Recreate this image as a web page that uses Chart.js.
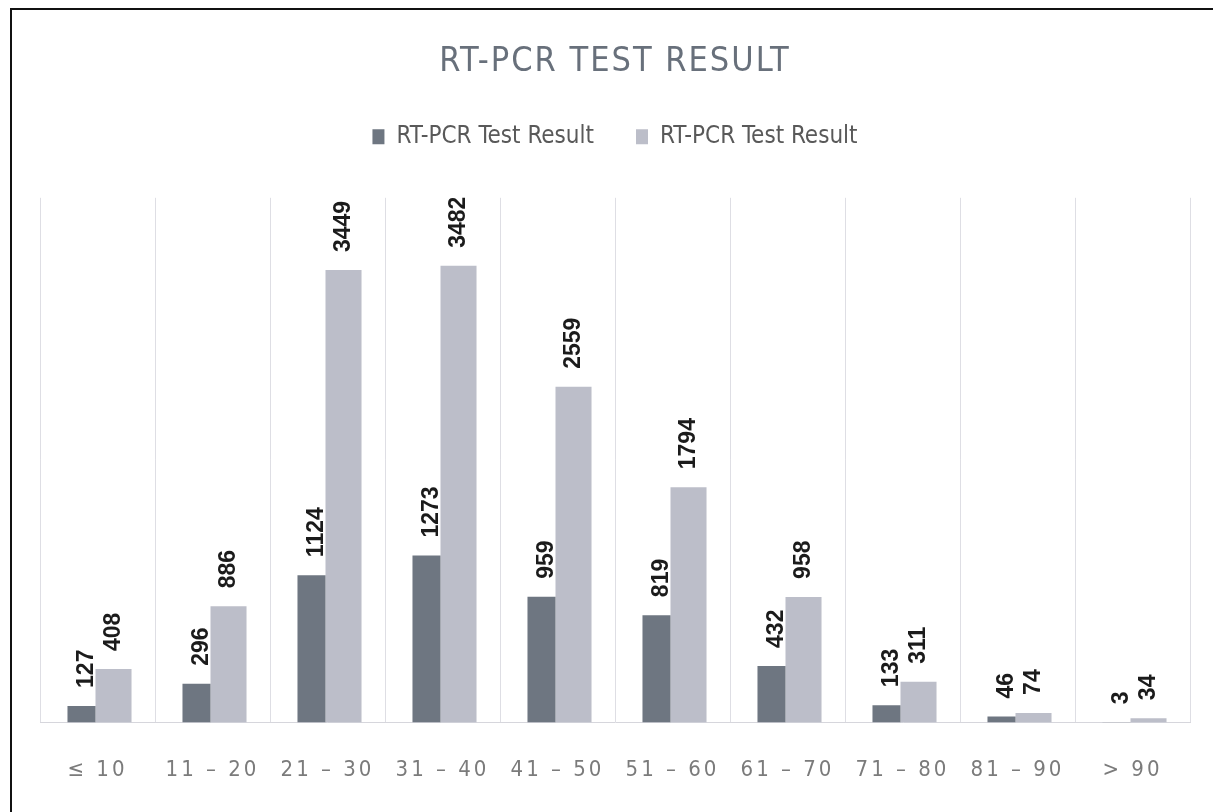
<!DOCTYPE html>
<html lang="en">
<head>
<meta charset="utf-8">
<title>RT-PCR Test Result</title>
<script src="https://cdn.jsdelivr.net/npm/chart.js@4.4.1/dist/chart.umd.min.js"></script>
<style>
  html, body { margin: 0; padding: 0; background: #fff; }
  .frame {
    position: absolute; left: 10px; top: 8px;
    width: 1203px; height: 804px;
    border-left: 2px solid #111; border-top: 2px solid #111;
    box-sizing: border-box;
  }
  .frame canvas { display: block; }
</style>
</head>
<body>
<div class="frame"><canvas id="chart-rtpcr"></canvas></div>
<script>
/* ---- Datos ---- */
const ageGroups = ['≤ 10', '11 – 20', '21 – 30', '31 – 40', '41 – 50', '51 – 60', '61 – 70', '71 – 80', '81 – 90', '> 90'];
const seriesDark = [127, 296, 1124, 1273, 959, 819, 432, 133, 46, 3];
const seriesLight = [408, 886, 3449, 3482, 2559, 1794, 958, 311, 74, 34];
const seriesNames = ['RT-PCR Test Result', 'RT-PCR Test Result'];
const yRange = [0, 4000];

const NARROW = '"Liberation Sans Narrow", "DejaVu Sans Condensed", "Liberation Sans", sans-serif';

/* ---- Etiquetas verticales sobre cada barra ---- */
const barLabels = {
  id: 'barLabels',
  afterDatasetsDraw(chart) {
    const ctx = chart.ctx;
    const shift = [5, 0];
    ctx.save();
    ctx.font = 'bold 23px "Liberation Sans", Arial, sans-serif';
    ctx.fillStyle = '#1b1b1b';
    ctx.textAlign = 'left';
    ctx.textBaseline = 'middle';
    chart.data.datasets.forEach((ds, i) => {
      chart.getDatasetMeta(i).data.forEach((bar, j) => {
        ctx.save();
        ctx.translate(bar.x + shift[i], bar.y - 18);
        ctx.rotate(-Math.PI / 2);
        ctx.fillText(String(ds.data[j]), 0, 0);
        ctx.restore();
      });
    });
    ctx.restore();
  }
};

/* ---- Espaciado de letras (titulo y eje X) y hueco bajo la leyenda ---- */
const spacing = {
  id: 'spacing',
  beforeInit(chart) {
    const legend = chart.legend;
    if (legend) {
      const fit = legend.fit.bind(legend);
      legend.fit = function () { fit(); this.height += 39; };
    }
  },
  afterLayout(chart) {
    const ctx = chart.ctx;
    const wrap = (obj, name, px) => {
      if (!obj || obj['_sp_' + name]) return;
      const orig = obj[name].bind(obj);
      obj[name] = (...args) => {
        const prev = ctx.letterSpacing;
        ctx.letterSpacing = px;
        orig(...args);
        ctx.letterSpacing = prev || '0px';
      };
      obj['_sp_' + name] = true;
    };
    wrap(chart.scales.x, 'drawLabels', '3px');
    wrap(chart.titleBlock, 'draw', '2px');
  }
};

new Chart(document.getElementById('chart-rtpcr'), {
  type: 'bar',
  data: {
    labels: ageGroups,
    datasets: [{
      label: seriesNames[0],
      data: seriesDark,
      backgroundColor: '#6e7681',
      borderWidth: 0,
      barPercentage: 0.875,
      categoryPercentage: 0.557
    }, {
      label: seriesNames[1],
      data: seriesLight,
      backgroundColor: '#bcbec9',
      borderWidth: 0,
      barPercentage: 1.125,
      categoryPercentage: 0.557
    }]
  },
  options: {
    responsive: true,
    maintainAspectRatio: false,
    animation: false,
    layout: { padding: { left: 28, right: 23, top: 0, bottom: -5 } },
    plugins: {
      title: {
        display: true,
        text: 'RT-PCR TEST RESULT',
        color: '#68707b',
        font: { family: NARROW, size: 34, weight: 'normal' },
        padding: { top: 32, bottom: 0 }
      },
      legend: {
        position: 'top',
        labels: {
          color: '#595959',
          font: { family: NARROW, size: 24 },
          boxWidth: 12,
          boxHeight: 15,
          padding: 42
        }
      },
      tooltip: { enabled: false }
    },
    scales: {
      x: {
        grid: { display: true, offset: true, color: '#dedee4', drawTicks: false },
        border: { display: true, color: '#d6d6dc' },
        ticks: {
          color: '#7b7b7b',
          font: { family: NARROW, size: 22 },
          padding: 34,
          maxRotation: 0,
          autoSkip: false
        }
      },
      y: {
        display: false,
        min: yRange[0],
        max: yRange[1]
      }
    }
  },
  plugins: [barLabels, spacing]
});
</script>
</body>
</html>
